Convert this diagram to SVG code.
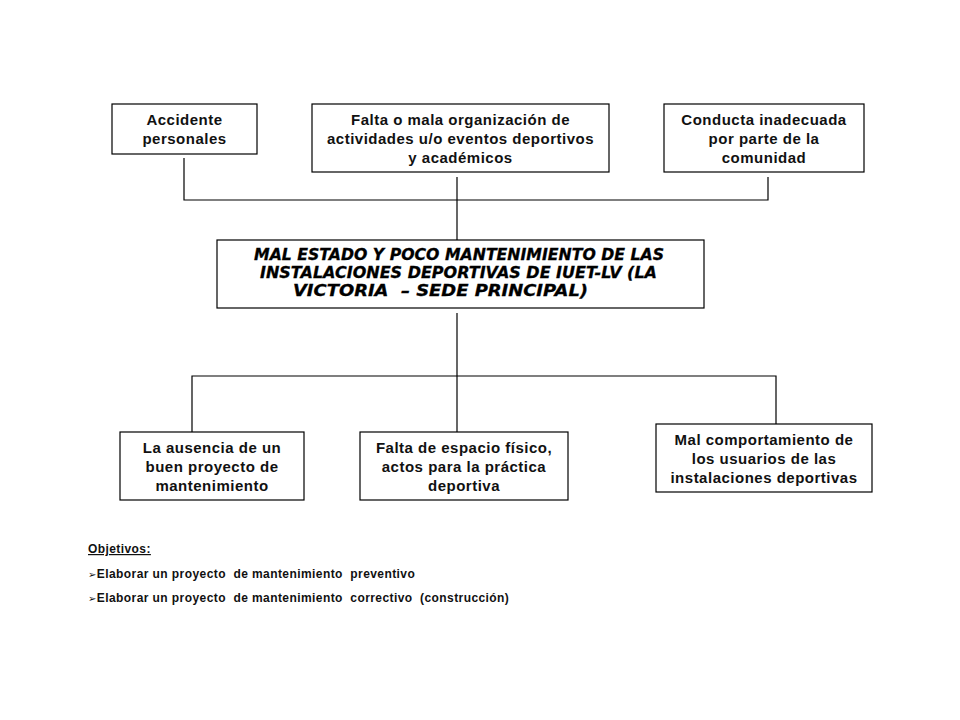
<svg xmlns="http://www.w3.org/2000/svg" width="960" height="720" viewBox="0 0 960 720">
<style>
.box{fill:#fff;stroke:#000;stroke-width:1.2}
.t{font-family:"Liberation Sans",Arial,sans-serif;font-weight:bold;font-size:15px;letter-spacing:0.5px;fill:#111;text-anchor:middle}
.m{font-family:"DejaVu Sans","Liberation Sans",sans-serif;font-weight:bold;font-style:italic;font-size:15.5px;fill:#000;stroke:#000;stroke-width:0.3}
.o{font-family:"Liberation Sans",Arial,sans-serif;font-weight:bold;font-size:12px;letter-spacing:0.42px;fill:#111}
.c{fill:none;stroke:#000;stroke-width:1.2}
</style>
<rect width="960" height="720" fill="#fff"/>
<g id="connectors">
<polyline class="c" points="184,158 184,200 768,200 768,177"/>
<line class="c" x1="457" y1="177" x2="457" y2="240"/>
<line class="c" x1="457" y1="313" x2="457" y2="432"/>
<polyline class="c" points="192,432 192,376 776,376 776,424"/>
</g>
<g id="n1">
<rect class="box" x="112" y="104" width="145" height="50"/>
<text class="t" x="184.5" y="125">Accidente</text>
<text class="t" x="184.5" y="144">personales</text>
</g>
<g id="n2">
<rect class="box" x="312" y="104" width="297" height="68"/>
<text class="t" x="460.5" y="125">Falta o mala organización de</text>
<text class="t" x="460.5" y="144">actividades u/o eventos deportivos</text>
<text class="t" x="460.5" y="163">y académicos</text>
</g>
<g id="n3">
<rect class="box" x="664" y="104" width="200" height="68"/>
<text class="t" x="764" y="125">Conducta inadecuada</text>
<text class="t" x="764" y="144">por parte de la</text>
<text class="t" x="764" y="163">comunidad</text>
</g>
<g id="n4">
<rect class="box" x="217" y="240" width="487" height="68"/>
<text class="m" x="254" y="260" textLength="410" lengthAdjust="spacingAndGlyphs">MAL ESTADO Y POCO MANTENIMIENTO DE LAS</text>
<text class="m" x="260" y="278" textLength="397" lengthAdjust="spacingAndGlyphs">INSTALACIONES DEPORTIVAS DE IUET-LV (LA</text>
<text class="m" x="293" y="296" textLength="295" lengthAdjust="spacingAndGlyphs" xml:space="preserve">VICTORIA  – SEDE PRINCIPAL)</text>
</g>
<g id="n5">
<rect class="box" x="120" y="432" width="184" height="68"/>
<text class="t" x="212" y="453">La ausencia de un</text>
<text class="t" x="212" y="472">buen proyecto de</text>
<text class="t" x="212" y="491">mantenimiento</text>
</g>
<g id="n6">
<rect class="box" x="360" y="432" width="208" height="68"/>
<text class="t" x="464" y="453">Falta de espacio físico,</text>
<text class="t" x="464" y="472">actos para la práctica</text>
<text class="t" x="464" y="491">deportiva</text>
</g>
<g id="n7">
<rect class="box" x="656" y="424" width="216" height="68"/>
<text class="t" x="764" y="445">Mal comportamiento de</text>
<text class="t" x="764" y="464">los usuarios de las</text>
<text class="t" x="764" y="483">instalaciones deportivas</text>
</g>
<g id="objetivos">
<text class="o" x="88" y="553" text-decoration="underline">Objetivos:</text>
<text class="o" x="88" y="578" xml:space="preserve"><tspan font-family="DejaVu Sans,sans-serif" font-weight="normal" font-size="10">➢</tspan>Elaborar un proyecto  de mantenimiento  preventivo</text>
<text class="o" x="88" y="602" xml:space="preserve"><tspan font-family="DejaVu Sans,sans-serif" font-weight="normal" font-size="10">➢</tspan>Elaborar un proyecto  de mantenimiento  correctivo  (construcción)</text>
</g>
</svg>
